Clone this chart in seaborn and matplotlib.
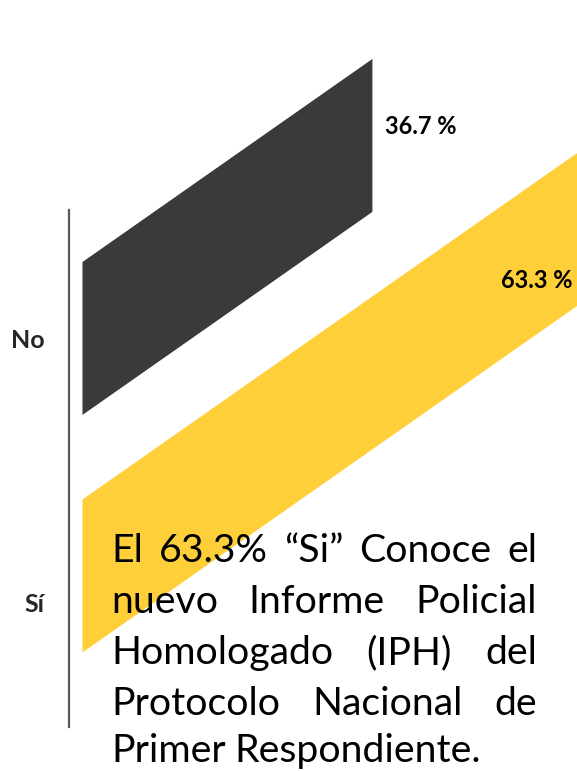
import matplotlib
matplotlib.use("Agg")
import matplotlib.pyplot as plt
import matplotlib.transforms as mtransforms
import seaborn as sns
import pandas as pd

categories = ["No", "Sí"]
values = [36.7, 63.3]
value_labels = ["36.7 %", "63.3 %"]
colors = ["#3A3A3A", "#FFCF3A"]
note_lines = [
    "El 63.3% “Si” Conoce el",
    "nuevo Informe Policial",
    "Homologado (IPH) del",
    "Protocolo Nacional de",
    "Primer Respondiente.",
]

sns.set_style("white")
plt.rcParams["font.family"] = ["Lato", "DejaVu Sans"]

W, H = 577, 771
fig = plt.figure(figsize=(W / 100, H / 100), dpi=100)
ax = fig.add_axes([68.5 / W, 44 / H, 1 - 68.5 / W, 517 / H])

df = pd.DataFrame({"respuesta": categories, "pct": values})
sns.barplot(data=df, x="pct", y="respuesta", hue="respuesta", palette=colors,
            orient="h", width=0.644, saturation=1, errorbar=None, legend=False, ax=ax)

ax.set_xlim(-1.77, 62.6)
ax.set_ylim(1.636, -0.541)

# slanted "3D" look: shear the bars upward to the right
shear = mtransforms.Affine2D.from_values(1, -0.0233, 0, 1, 0, 0)
for p in ax.patches:
    p.set_transform(shear + ax.transData)
    p.set_clip_on(False)
    p.set_edgecolor("none")

# value labels
xmax = ax.get_xlim()[1]
for i, (v, lab) in enumerate(zip(values, value_labels)):
    if v + 10 < xmax:
        ax.text(v + 1.6, i, lab, transform=shear + ax.transData, ha="left", va="center",
                fontsize=17, fontweight="bold", color="black", clip_on=False)
    else:
        ax.text(xmax - 0.6, i + 0.2, lab, transform=shear + ax.transData, ha="right", va="center",
                fontsize=17, fontweight="bold", color="black", clip_on=False)

sns.despine(ax=ax, top=True, right=True, bottom=True)
ax.spines["left"].set_color("#595959")
ax.spines["left"].set_linewidth(1.6)
ax.set_xticks([])
ax.set_xlabel("")
ax.set_ylabel("")
ax.tick_params(axis="y", length=0, pad=17, labelsize=18)
for t in ax.get_yticklabels():
    t.set_fontweight("bold")
si = ax.get_yticklabels()[1]
si.set_transform(si.get_transform() + mtransforms.ScaledTranslation(0, -27 / 100, fig.dpi_scale_trans))

# justified note text
fig.canvas.draw()
renderer = fig.canvas.get_renderer()
left, right = 111, 537
baselines = [562, 613, 664, 715, 762]
note_size = 28.3
ident = mtransforms.IdentityTransform()
for k, line in enumerate(note_lines):
    words = line.split()
    y = H - baselines[k]
    objs = [fig.text(0, y, w, transform=ident, fontsize=note_size, color="black", va="baseline", ha="left")
            for w in words]
    widths = [o.get_window_extent(renderer).width for o in objs]
    if k < len(note_lines) - 1 and len(words) > 1:
        gap = (right - left - sum(widths)) / (len(words) - 1)
    else:
        gap = renderer.points_to_pixels(note_size) * 0.23
    x = left
    for o, w in zip(objs, widths):
        o.set_x(x)
        x += w + gap

fig.savefig("out.png", dpi=100)
